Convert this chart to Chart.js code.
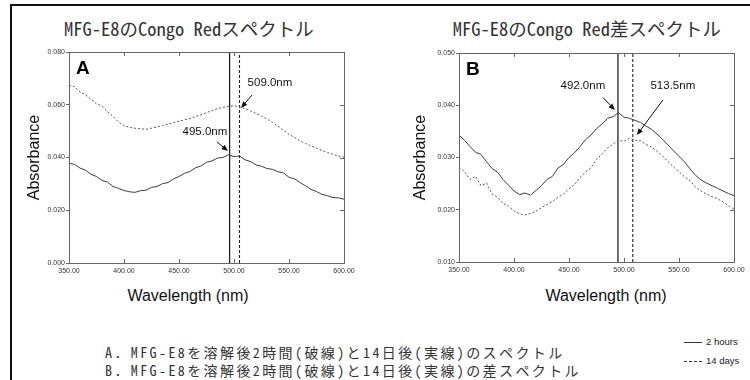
<!DOCTYPE html>
<html>
<head>
<meta charset="UTF-8">
<title>MFG-E8 Congo Red</title>
<script src="https://cdn.jsdelivr.net/npm/chart.js"></script>
<style>
  body { margin: 0; width: 750px; height: 380px; overflow: hidden; background: #fff; position: relative;
         font-family: "Liberation Sans", Arial, sans-serif; color: #111; }
  .frame { position: absolute; left: 10px; top: 4px; width: 900px; height: 500px; border: 2px solid #111; }
  .jp { font-family: "Noto Sans Mono CJK JP", "Noto Sans CJK JP", sans-serif; white-space: nowrap; position: absolute; }
  .title { font-size: 18.5px; transform: translateX(-50%); top: 15px; color: #333; }
  .xtitle { position: absolute; font-size: 16px; transform: translateX(-50%); top: 287px; white-space: nowrap; }
  .cap { font-size: 14px; line-height: 18px; letter-spacing: 2.4px; left: 105px; color: #333; }
  .leg { position: absolute; font-size: 9.5px; left: 706px; color: #222; }
  .sw { position: absolute; left: -22px; top: 6px; width: 18px; border-top: 1px solid #333; }
  .sw.dash { border-top-style: dashed; }
  canvas { position: absolute; }
</style>
</head>
<body>
<div class="frame"></div>
<div class="jp title" style="left:189px">MFG-E8のCongo Redスペクトル</div>
<div class="jp title" style="left:587px">MFG-E8のCongo Red差スペクトル</div>
<canvas id="chartA" width="370" height="240" style="left:0;top:40px"></canvas>
<canvas id="chartB" width="375" height="240" style="left:375px;top:40px"></canvas>
<div class="xtitle" style="left:188px">Wavelength (nm)</div>
<div class="xtitle" style="left:606px">Wavelength (nm)</div>
<div class="leg" style="top:336px"><span class="sw"></span>2 hours</div>
<div class="leg" style="top:355px"><span class="sw dash"></span>14 days</div>
<div class="jp cap" style="top:343px">A．MFG-E8を溶解後2時間(破線)と14日後(実線)のスペクトル</div>
<div class="jp cap" style="top:361px">B．MFG-E8を溶解後2時間(破線)と14日後(実線)の差スペクトル</div>

<script>
// wavelength (nm), shared by all four curves
const wavelengths = [350,355,360,365,370,375,380,385,390,395,400,405,410,415,420,425,430,435,440,445,
                     450,455,460,465,470,475,480,485,490,495,500,505,510,515,520,525,530,535,540,545,
                     550,555,560,565,570,575,580,585,590,595,600];

// A: spectra
const solidA = [.0378,.0374,.0360,.0352,.0336,.0328,.0313,.0307,.0290,.0283,.0275,.0270,.0268,.0274,.0276,.0287,.0290,.0301,.0305,.0319,
                .0328,.0340,.0347,.0361,.0368,.0382,.0387,.0398,.0400,.0411,.0403,.0406,.0391,.0385,.0372,.0367,.0358,.0355,.0346,.0341,
                .0325,.0319,.0305,.0293,.0279,.0271,.0260,.0255,.0248,.0247,.0242];
const dashedA = [.0675,.0669,.0648,.0638,.0620,.0603,.0596,.0574,.0556,.0535,.0521,.0514,.0511,.0509,.0507,.0511,.0516,.0521,.0526,.0532,
                 .0537,.0543,.0548,.0555,.0562,.0570,.0578,.0585,.0590,.0594,.0596,.0592,.0585,.0577,.0567,.0557,.0546,.0533,.0519,.0503,
                 .0488,.0476,.0463,.0453,.0444,.0435,.0427,.0419,.0412,.0406,.0401];

// B: difference spectra
const solidB = [.0343,.0333,.0321,.0310,.0306,.0292,.0279,.0272,.0258,.0247,.0236,.0229,.0232,.0228,.0237,.0246,.0258,.0264,.0280,.0287,
                .0300,.0309,.0321,.0334,.0343,.0355,.0364,.0375,.0378,.0386,.0377,.0375,.0371,.0367,.0360,.0354,.0345,.0335,.0324,.0313,
                .0302,.0292,.0278,.0266,.0257,.0251,.0246,.0241,.0236,.0231,.0227];
const dashedB = [.0282,.0273,.0258,.0264,.0246,.0251,.0230,.0224,.0212,.0207,.0198,.0192,.0190,.0193,.0197,.0204,.0210,.0216,.0224,.0230,
                 .0240,.0248,.0262,.0272,.0280,.0296,.0307,.0318,.0326,.0333,.0331,.0337,.0333,.0332,.0325,.0320,.0312,.0303,.0292,.0282,
                 .0273,.0263,.0256,.0243,.0236,.0230,.0225,.0221,.0215,.0208,.0201];

// peak marker lines (solid, dashed) as drawn, and their labels
const peaksA = [496, 505];
const peaksB = [494.5, 508];
const peakLabelsA = ['495.0nm', '509.0nm'];
const peakLabelsB = ['492.0nm', '513.5nm'];

// label anchors / arrow ends in data units: [textX, textY, fromX, fromY, toX, toY]
const arrowsA = [[473.6, .0497, 484.5, .0459, 494.5, .0425], [532.7, .0682, 516.4, .0637, 506.4, .0588]];
const arrowsB = [[462.6, .0438, 480.8, .0415, 491.7, .0391], [544.4, .0438, 535.3, .0410, 511.7, .0343]];

const decor = {
  id: 'decor',
  afterDatasetsDraw(chart, args, opts) {
    const {ctx, chartArea: a, scales: {x, y}} = chart;
    ctx.save();
    ctx.strokeStyle = '#666';
    ctx.lineWidth = 1;
    ctx.strokeRect(Math.round(a.left) + 0.5, Math.round(a.top) + 0.5, Math.round(a.width), Math.round(a.height));
    ctx.beginPath();
    x.ticks.forEach(t => {
      const px = Math.round(x.getPixelForValue(t.value)) + 0.5;
      ctx.moveTo(px, a.top); ctx.lineTo(px, a.top + 4);
      ctx.moveTo(px, a.bottom); ctx.lineTo(px, a.bottom - 4);
    });
    y.ticks.forEach(t => {
      const py = Math.round(y.getPixelForValue(t.value)) + 0.5;
      ctx.moveTo(a.right, py); ctx.lineTo(a.right - 4, py);
    });
    ctx.stroke();

    // panel letter
    ctx.fillStyle = '#000';
    ctx.font = 'bold 19px "Liberation Sans", Arial';
    ctx.textAlign = 'left';
    ctx.textBaseline = 'alphabetic';
    ctx.fillText(opts.letter, a.left + 7, a.top + 22);

    // peak labels with arrows
    ctx.font = '11.5px "Liberation Sans", Arial';
    ctx.textAlign = 'center';
    ctx.textBaseline = 'middle';
    ctx.strokeStyle = '#111';
    opts.arrows.forEach((r, i) => {
      ctx.fillStyle = '#111';
      ctx.fillText(opts.labels[i], x.getPixelForValue(r[0]), y.getPixelForValue(r[1]));
      const x1 = x.getPixelForValue(r[2]), y1 = y.getPixelForValue(r[3]);
      const x2 = x.getPixelForValue(r[4]), y2 = y.getPixelForValue(r[5]);
      const ang = Math.atan2(y2 - y1, x2 - x1);
      ctx.beginPath();
      ctx.moveTo(x1, y1);
      ctx.lineTo(x2 - 4 * Math.cos(ang), y2 - 4 * Math.sin(ang));
      ctx.stroke();
      ctx.beginPath();
      ctx.moveTo(x2, y2);
      ctx.lineTo(x2 - 7 * Math.cos(ang - 0.4), y2 - 7 * Math.sin(ang - 0.4));
      ctx.lineTo(x2 - 7 * Math.cos(ang + 0.4), y2 - 7 * Math.sin(ang + 0.4));
      ctx.closePath();
      ctx.fill();
    });
    ctx.restore();
  }
};

function makeChart(id, c) {
  const pts = vals => wavelengths.map((w, i) => ({x: w, y: vals[i]}));
  const vline = w => [{x: w, y: c.yMin}, {x: w, y: c.yMax}];
  return new Chart(document.getElementById(id), {
    type: 'line',
    data: {
      datasets: [
        {data: pts(c.solid), borderColor: '#3c3c3c', borderWidth: 1},
        {data: pts(c.dashed), borderColor: '#555', borderWidth: 1, borderDash: [2, 2]},
        {data: vline(c.peaks[0]), borderColor: '#222', borderWidth: 1.3},
        {data: vline(c.peaks[1]), borderColor: '#222', borderWidth: 1.1, borderDash: [3, 2]}
      ]
    },
    options: {
      responsive: false,
      animation: false,
      events: [],
      layout: {padding: c.padding},
      elements: {point: {radius: 0}, line: {tension: 0, fill: false}},
      plugins: {
        legend: {display: false},
        tooltip: {enabled: false},
        decor: {letter: c.letter, arrows: c.arrows, labels: c.labels}
      },
      scales: {
        x: {
          type: 'linear', min: 350, max: 600,
          grid: {drawOnChartArea: false, drawTicks: false, color: '#666'},
          border: {color: '#666'},
          ticks: {stepSize: 50, padding: 4, color: '#333', font: {size: 7}, maxRotation: 0,
                  callback: v => v.toFixed(2)},
          afterFit: s => { s.height = c.xh; }
        },
        y: {
          min: c.yMin, max: c.yMax,
          grid: {drawOnChartArea: false, tickLength: 3, color: '#666'},
          border: {color: '#666'},
          ticks: {stepSize: c.yStep, padding: 1, color: '#333', font: {size: 7},
                  callback: v => v.toFixed(3)},
          title: {display: true, text: 'Absorbance', color: '#111', font: {size: 16},
                  padding: {top: c.tp, bottom: 0}},
          afterFit: s => { s.width = c.yw; }
        }
      }
    },
    plugins: [decor]
  });
}

makeChart('chartA', {
  solid: solidA, dashed: dashedA, peaks: peaksA, labels: peakLabelsA, arrows: arrowsA, letter: 'A',
  yMin: 0, yMax: 0.08, yStep: 0.02,
  padding: {top: 12, right: 26, left: 0, bottom: 0}, yw: 69, xh: 17, tp: 25
});
makeChart('chartB', {
  solid: solidB, dashed: dashedB, peaks: peaksB, labels: peakLabelsB, arrows: arrowsB, letter: 'B',
  yMin: 0.01, yMax: 0.05, yStep: 0.01,
  padding: {top: 13, right: 16, left: 0, bottom: 0}, yw: 84, xh: 18, tp: 36
});
</script>
</body>
</html>
